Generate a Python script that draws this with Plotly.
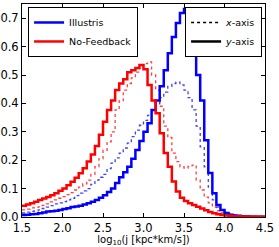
import plotly.graph_objects as go

bin_edges = [round(1.5 + 0.05 * i, 2) for i in range(61)]

# Illustris, y-axis (solid blue)
ill_y = [0.007, 0.008, 0.010, 0.011, 0.013, 0.016, 0.019, 0.020, 0.022, 0.025,
         0.028, 0.031, 0.035, 0.037, 0.040, 0.044, 0.048, 0.054, 0.060, 0.068,
         0.077, 0.088, 0.100, 0.120, 0.140, 0.158, 0.177, 0.205, 0.236, 0.268,
         0.300, 0.330, 0.377, 0.410, 0.460, 0.517, 0.577, 0.634, 0.683, 0.718,
         0.732, 0.690, 0.620, 0.500, 0.410, 0.270, 0.155, 0.084, 0.042, 0.025,
         0.014, 0.008, 0.005, 0.004, 0.003, 0.002, 0.001, 0.001, 0.001, 0.001]
# Illustris, x-axis (dotted blue)
ill_x = [0.014, 0.017, 0.020, 0.022, 0.025, 0.030, 0.035, 0.040, 0.046, 0.050,
         0.054, 0.060, 0.066, 0.075, 0.084, 0.092, 0.100, 0.115, 0.130, 0.140,
         0.150, 0.170, 0.190, 0.208, 0.225, 0.243, 0.260, 0.283, 0.306, 0.323,
         0.340, 0.358, 0.377, 0.398, 0.420, 0.440, 0.460, 0.470, 0.475, 0.465,
         0.447, 0.420, 0.377, 0.320, 0.247, 0.177, 0.105, 0.060, 0.035, 0.025,
         0.018, 0.012, 0.008, 0.005, 0.004, 0.003, 0.002, 0.002, 0.002, 0.001]
# No-Feedback, y-axis (solid red)
nofb_y = [0.040, 0.044, 0.048, 0.054, 0.060, 0.065, 0.070, 0.077, 0.084, 0.092,
          0.100, 0.112, 0.124, 0.138, 0.154, 0.172, 0.195, 0.220, 0.250, 0.290,
          0.335, 0.377, 0.410, 0.447, 0.470, 0.485, 0.510, 0.517, 0.525, 0.535,
          0.520, 0.465, 0.410, 0.365, 0.295, 0.225, 0.177, 0.125, 0.090, 0.068,
          0.056, 0.048, 0.042, 0.036, 0.030, 0.024, 0.018, 0.013, 0.010, 0.007,
          0.005, 0.004, 0.003, 0.003, 0.002, 0.002, 0.002, 0.001, 0.001, 0.001]
# No-Feedback, x-axis (dotted red)
nofb_x = [0.025, 0.028, 0.032, 0.034, 0.036, 0.041, 0.046, 0.053, 0.060, 0.066,
          0.072, 0.079, 0.086, 0.095, 0.105, 0.117, 0.130, 0.150, 0.177, 0.205,
          0.235, 0.265, 0.300, 0.377, 0.410, 0.447, 0.470, 0.490, 0.510, 0.530,
          0.540, 0.546, 0.500, 0.447, 0.390, 0.320, 0.280, 0.225, 0.195, 0.177,
          0.172, 0.178, 0.183, 0.130, 0.095, 0.070, 0.050, 0.035, 0.022, 0.014,
          0.009, 0.006, 0.005, 0.004, 0.003, 0.003, 0.002, 0.002, 0.002, 0.001]

x_ticks = [1.5, 2.0, 2.5, 3.0, 3.5, 4.0, 4.5]
y_ticks = [0.0, 0.1, 0.2, 0.3, 0.4, 0.5, 0.6, 0.7]

BLUE = "#0000ff"
RED = "#ff0000"


def step(vals):
    return vals + [vals[-1]]


fig = go.Figure()
series = [
    (ill_x, BLUE, "dot", 1.3, 0.75),
    (nofb_x, RED, "dot", 1.3, 0.75),
    (ill_y, BLUE, "solid", 2.5, 1.0),
    (nofb_y, RED, "solid", 2.5, 1.0),
]
for vals, col, dash, w, op in series:
    fig.add_trace(go.Scatter(
        x=bin_edges, y=step(vals), mode="lines", line_shape="hv",
        line=dict(color=col, width=w, dash=dash), opacity=op,
        showlegend=False, hoverinfo="skip"))

# legend 1 (simulations)
fig.add_trace(go.Scatter(x=[None], y=[None], mode="lines", name="Illustris",
                         line=dict(color=BLUE, width=2.5), legend="legend"))
fig.add_trace(go.Scatter(x=[None], y=[None], mode="lines", name="No-Feedback",
                         line=dict(color=RED, width=2.5), legend="legend"))
# legend 2 (projection axis)
fig.add_trace(go.Scatter(x=[None], y=[None], mode="lines", name="<i>x</i>-axis",
                         line=dict(color="black", width=1.3, dash="dot"), legend="legend2"))
fig.add_trace(go.Scatter(x=[None], y=[None], mode="lines", name="<i>y</i>-axis",
                         line=dict(color="black", width=2.5), legend="legend2"))

axis_common = dict(showgrid=False, zeroline=False, showline=True, linecolor="black",
                   linewidth=1, mirror="ticks", ticks="inside", ticklen=4,
                   tickcolor="black", automargin=False,
                   tickfont=dict(size=11.5, color="black"))

fig.update_layout(
    width=279, height=247,
    margin=dict(l=22, r=14, t=4, b=30),
    paper_bgcolor="white", plot_bgcolor="white",
    font=dict(family="DejaVu Sans", color="black"),
    xaxis=dict(range=[1.5, 4.5], tickvals=x_ticks,
               ticktext=[f"{v:.1f}" for v in x_ticks],
               title=dict(text="log<sub>10</sub>(j [kpc*km/s])",
                          font=dict(size=10)),
               **axis_common),
    yaxis=dict(range=[0, 0.75], tickvals=y_ticks,
               ticktext=[f"{v:.1f}" for v in y_ticks], **axis_common),
    legend=dict(x=0.025, y=0.986, xanchor="left", yanchor="top",
                bgcolor="white", bordercolor="black", borderwidth=1,
                font=dict(size=9.5), itemwidth=30, tracegroupgap=0),
    legend2=dict(x=0.988, y=0.986, xanchor="right", yanchor="top",
                 bgcolor="white", bordercolor="black", borderwidth=1,
                 font=dict(size=9.5), itemwidth=30, tracegroupgap=0),
)

fig.write_html("out.html", config={"displayModeBar": False},
               post_script="document.body.style.margin='0';document.body.style.overflow='hidden';")
